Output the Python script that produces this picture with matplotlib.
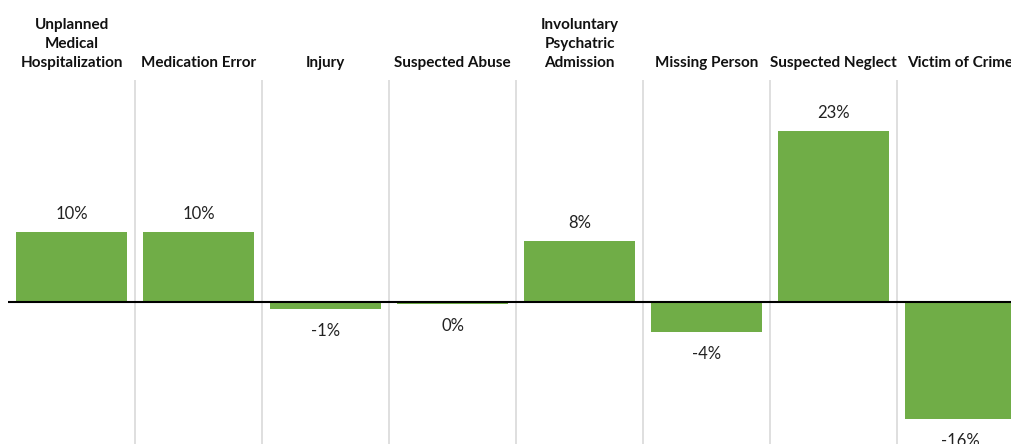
import matplotlib
matplotlib.use("Agg")
import matplotlib.pyplot as plt

categories = ["Unplanned\nMedical\nHospitalization", "Medication Error", "Injury",
              "Suspected Abuse", "Involuntary\nPsychatric\nAdmission", "Missing Person",
              "Suspected Neglect", "Victim of Crime"]
values = [9.4, 9.4, -0.9, -0.3, 8.2, -4.0, 23.0, -15.7]
labels = ["10%", "10%", "-1%", "0%", "8%", "-4%", "23%", "-16%"]

W, H = 1011, 444
fig = plt.figure(figsize=(W / 100, H / 100), dpi=100)
left_px, right_px = 8, 1024
top_px = 80
zero_px = 302
scale = 7.43  # px per percent
ymax = (zero_px - top_px) / scale
ymin = -(H - zero_px) / scale
ax = fig.add_axes([left_px / W, 0, (right_px - left_px) / W, (H - top_px) / H])
ax.set_xlim(-0.5, len(values) - 0.5)
ax.set_ylim(ymin, ymax)
ax.axis("off")

green = "#70AD47"
x = list(range(len(values)))
ax.bar(x, values, width=0.875, color=green, zorder=2)
for i in range(1, len(values)):
    ax.axvline(i - 0.5, color="#D9D9D9", lw=1.2, zorder=1)
ax.axhline(0, color="black", lw=1.5, zorder=3)

for xi, v, lab in zip(x, values, labels):
    if v >= 0:
        ax.annotate(lab, (xi, v), xytext=(0, 7), textcoords="offset points",
                    ha="center", va="bottom", fontsize=12, family="Lato", color="#222222")
    else:
        ax.annotate(lab, (xi, v), xytext=(0, -10), textcoords="offset points",
                    ha="center", va="top", fontsize=12, family="Lato", color="#222222")

for xi, cat in zip(x, categories):
    xf = (left_px + (xi + 0.5) * (right_px - left_px) / len(values)) / W
    fig.text(xf, 1 - 70 / H, cat, ha="center", va="bottom", fontsize=11,
             fontweight="bold", family="Lato", color="#111111", linespacing=1.45)

fig.savefig("out.png", dpi=100)
